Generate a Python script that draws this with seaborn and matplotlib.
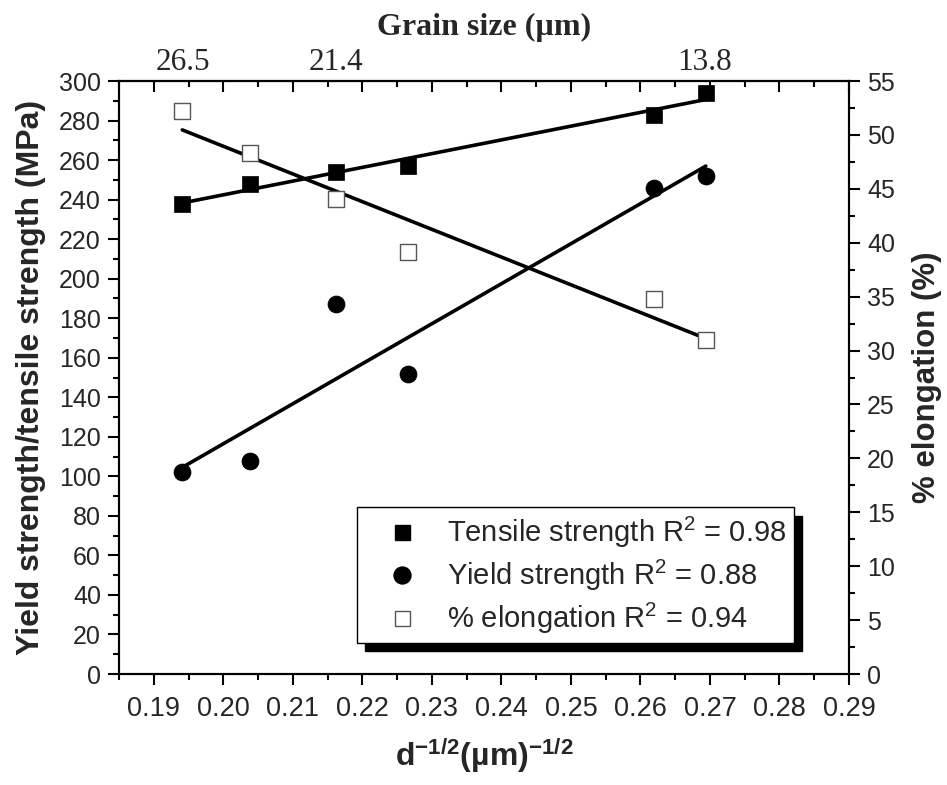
import numpy as np
import matplotlib.pyplot as plt
import seaborn as sns
from matplotlib.lines import Line2D
from matplotlib.ticker import MultipleLocator

# Data
d_inv = [0.1941, 0.2039, 0.2162, 0.2265, 0.2619, 0.2694]   # d^-1/2 (um^-1/2)
tensile = [238, 248, 254, 257, 283, 294]                    # MPa
yield_str = [102, 108, 187, 152, 246, 252]                  # MPa
elongation = [52.2, 48.3, 44.1, 39.1, 34.8, 31.0]           # %

grain_um = [26.5, 21.4, 13.8]
grain_labels = ["26.5", "21.4", "13.8"]
x_tick_labels = ["0.19", "0.20", "0.21", "0.22", "0.23", "0.24",
                 "0.25", "0.26", "0.27", "0.28", "0.29"]
legend_labels = [r"Tensile strength $\mathregular{R^2}$ = 0.98",
                 r"Yield strength $\mathregular{R^2}$ = 0.88",
                 r"% elongation $\mathregular{R^2}$ = 0.94"]

sns.set_theme(style="ticks")
plt.rcParams["font.family"] = ["Liberation Sans", "DejaVu Sans"]
plt.rcParams["mathtext.fontset"] = "custom"
plt.rcParams["mathtext.rm"] = "Liberation Sans"
plt.rcParams["mathtext.bf"] = "Liberation Sans:bold"
plt.rcParams["mathtext.it"] = "Liberation Sans:italic"
plt.rcParams["axes.linewidth"] = 1.5

fig, ax = plt.subplots(figsize=(9.47, 7.85), dpi=100)
fig.subplots_adjust(left=0.1257, right=0.8965, bottom=0.1414, top=0.8968)
ax2 = ax.twinx()

line_kws = {"lw": 2.6, "color": "black", "solid_capstyle": "round"}

# fitted lines
sns.regplot(x=d_inv, y=tensile, ax=ax, scatter=False, ci=None, line_kws=line_kws)
sns.regplot(x=d_inv, y=yield_str, ax=ax, scatter=False, ci=None, line_kws=line_kws)
sns.regplot(x=d_inv, y=elongation, ax=ax2, scatter=False, ci=None, line_kws=line_kws)

# markers
sns.scatterplot(x=d_inv, y=tensile, ax=ax, marker="s", s=117, color="black",
                edgecolor="black", linewidth=0.5, zorder=3)
sns.scatterplot(x=d_inv, y=yield_str, ax=ax, marker="o", s=150, color="black",
                edgecolor="black", linewidth=0.5, zorder=3)
sns.scatterplot(x=d_inv, y=elongation, ax=ax2, marker="s", s=117, facecolor="white",
                edgecolor="#555555", linewidth=1.0, zorder=3)

# axes ranges / ticks
ax.set_xlim(0.185, 0.29)
ax.set_ylim(0, 300)
ax2.set_ylim(0, 55)

ax.set_xticks([float(t) for t in x_tick_labels], labels=x_tick_labels)
ax.xaxis.set_minor_locator(MultipleLocator(0.005))
ax.yaxis.set_major_locator(MultipleLocator(20))
ax.yaxis.set_minor_locator(MultipleLocator(10))
ax2.yaxis.set_major_locator(MultipleLocator(5))
ax2.yaxis.set_minor_locator(MultipleLocator(2.5))

ax.tick_params(axis="both", which="major", direction="out", length=8, width=1.5,
               color="black", pad=5)
ax.tick_params(axis="both", which="minor", direction="out", length=4, width=1.5,
               color="black")
ax.tick_params(axis="y", labelsize=18)
ax.tick_params(axis="x", labelsize=19.5, pad=8)
ax.tick_params(right=False, top=False, which="both")
ax2.tick_params(axis="y", which="major", direction="out", length=8, width=1.5,
                color="black", labelsize=18, pad=5)
ax2.tick_params(axis="y", which="minor", direction="out", length=4, width=1.5,
                color="black")

# top axis: inward ticks mirroring the bottom ones
top_ticks = ax.secondary_xaxis("top")
top_ticks.set_xticks([float(t) for t in x_tick_labels], labels=[])
top_ticks.xaxis.set_minor_locator(MultipleLocator(0.005))
top_ticks.tick_params(which="major", direction="in", length=8, width=1.5, color="black")
top_ticks.tick_params(which="minor", direction="in", length=4, width=1.5, color="black")
top_ticks.spines["top"].set_linewidth(1.5)

# top axis: grain size labels
top_lab = ax.secondary_xaxis("top")
top_lab.set_xticks(np.array(grain_um) ** -0.5, labels=grain_labels)
top_lab.tick_params(length=0, pad=3)
top_lab.spines["top"].set_visible(False)
for lab in top_lab.get_xticklabels():
    lab.set_fontfamily("Liberation Serif")
    lab.set_fontsize(22.5)
top_lab.set_xlabel("Grain size (µm)", fontfamily="Liberation Serif",
                   fontweight="bold", fontsize=23, labelpad=9)

for side in ["left", "right", "bottom", "top"]:
    ax.spines[side].set_color("black")
    ax2.spines[side].set_color("black")
    ax2.spines[side].set_linewidth(1.5)

ax.set_xlabel(r"d$^{\mathbf{-1/2}}$(µm)$^{\mathbf{-1/2}}$", fontsize=23,
              fontweight="bold", labelpad=10)
ax.set_ylabel("Yield strength/tensile strength (MPa)", fontsize=23,
              fontweight="bold", labelpad=9)
ax2.set_ylabel("% elongation (%)", fontsize=22.5, fontweight="bold",
               rotation=90, labelpad=12)

# legend
handles = [
    Line2D([], [], ls="none", marker="s", markersize=10.8, color="black"),
    Line2D([], [], ls="none", marker="o", markersize=12.2, color="black"),
    Line2D([], [], ls="none", marker="s", markersize=10.8, markerfacecolor="white",
           markeredgecolor="#555555", markeredgewidth=1.0),
]
leg = ax2.legend(handles, legend_labels, loc="lower left",
                 bbox_to_anchor=(0.326, 0.052), borderaxespad=0,
                 fontsize=21, frameon=True, fancybox=False, framealpha=1,
                 edgecolor="black", borderpad=0.25, handlelength=2.6,
                 handletextpad=0.25, labelspacing=0.27,
                 shadow={"color": "black", "alpha": 1, "ox": 6, "oy": -6})
leg.get_frame().set_linewidth(1.0)

plt.savefig("out.png", dpi=100)
plt.close()
